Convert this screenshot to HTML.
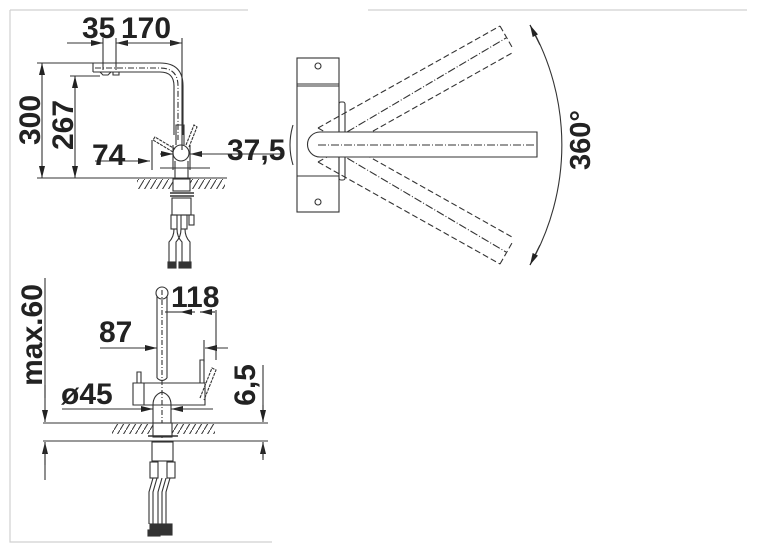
<!DOCTYPE html>
<html><head><style>
html,body{margin:0;padding:0;background:#fff;}
svg{display:block;}
text{font-family:"Liberation Sans",Arial,sans-serif;font-weight:bold;fill:#222;}
</style></head><body>
<svg width="757" height="552" viewBox="0 0 757 552" xmlns="http://www.w3.org/2000/svg">
<defs>
<marker id="a" viewBox="0 0 12 6" refX="12" refY="3" markerWidth="12" markerHeight="6" orient="auto-start-reverse" markerUnits="userSpaceOnUse"><path d="M0,0 L12,3 L0,6 z" fill="#222"/></marker>
<pattern id="h" width="6" height="10" patternUnits="userSpaceOnUse"><path d="M0,10 L6,0" stroke="#333" stroke-width="1"/></pattern>
</defs>
<g stroke="#d0d0d0" stroke-width="1.2" fill="none">
<path d="M10,10 H248"/><path d="M10,10 V542 H272"/><path d="M368,10 H747"/>
</g>
<g stroke="#333" stroke-width="1.1" fill="none">
<path d="M67,43 H103" /><path d="M83,43 H103" marker-end="url(#a)"/>
<path d="M137,43 H116" marker-end="url(#a)"/><path d="M160,43 H182" marker-end="url(#a)"/><path d="M116,43 H182"/>
<path d="M103,38 V70"/><path d="M116,38 V70"/><path d="M182,38 V150"/>
<path d="M93,63 H160 Q183,63 183,86 V135"/>
<path d="M93,72 H160 Q174,72 174,86 V135"/>
<path d="M93,63 V72"/>
<path d="M95,68 H160 Q178,68 178,86 V140" stroke-dasharray="6,2,1,2"/>
<path d="M100,72 l3,3 h5 l3,-3"/><path d="M113,72 v3 h6 v-3"/>
<path d="M37,63 H93"/><path d="M70,76 H100"/>
<path d="M42,80 V63" marker-end="url(#a)"/><path d="M42,80 V160"/><path d="M42,160 V178" marker-end="url(#a)"/>
<path d="M75,95 V76" marker-end="url(#a)"/><path d="M75,95 V160"/><path d="M75,160 V178" marker-end="url(#a)"/>
<path d="M37,178 H137"/>
<circle cx="181" cy="153" r="8"/>
<path d="M176,145 V125 h8 V145"/>
<path d="M186,145 l8,-20 l3,2 l-8,20" stroke-dasharray="3,1"/>
<path d="M173,152 l-20,-12 l2,-3 l20,12" stroke-dasharray="3,1"/>
<path d="M175,161 V178 M188,161 V178"/>
<path d="M95,161 H150" /><path d="M130,161 H150" marker-end="url(#a)"/><path d="M152,140 V170"/>
<path d="M160,154 H173" marker-end="url(#a)"/><path d="M215,154 H190" marker-end="url(#a)"/><path d="M190,154 H282"/><path d="M173,145 V170 M190,145 V170"/>
<path d="M160,168 H210"/>
<path d="M137,178 H227"/>
<rect x="137" y="179" width="88" height="10" fill="url(#h)" stroke="none"/>
<rect x="173" y="179" width="17" height="12" fill="#fff"/>
<path d="M170,193 H194 M170,196 H194" stroke-width="1.6"/>
<rect x="172" y="198" width="19" height="17"/>
<rect x="171" y="215" width="6" height="14"/><rect x="181" y="215" width="6" height="14"/><rect x="189" y="215" width="5" height="10"/>
<path d="M174,229 q0,8 -5,13 V262 M177,229 q0,8 5,13 V262 M181,229 q0,8 -5,13 V262 M185,229 q0,8 5,13 V262"/>
<rect x="168" y="262" width="8" height="6" fill="#333"/><rect x="179" y="262" width="12" height="6" fill="#333"/>
<path d="M45,278 V398"/><path d="M45,385 V422" marker-end="url(#a)"/>
<path d="M45,465 V442" marker-end="url(#a)"/><path d="M45,442 V480"/>
<path d="M43,423 H268 M43,441 H268"/>
<path d="M263,365 V420"/><path d="M263,405 V422" marker-end="url(#a)"/><path d="M263,458 V442" marker-end="url(#a)"/><path d="M263,442 V460"/>
<circle cx="162" cy="293" r="6"/>
<path d="M157,296 V378 M167,296 V378"/><path d="M162,290 V440" stroke-dasharray="5,2,1,2"/>
<path d="M157,378 q5,5 10,0"/>
<path d="M133,383 H205 V405 H133 Z"/><path d="M137,383 V372 h4 V383"/>
<path d="M144,383 V405"/>
<path d="M200,383 V360 h4 V383"/>
<path d="M200,398 l12,-30 l4,2 l-12,30" stroke-dasharray="3,1"/>
<path d="M153,405 q0,-10 9,-13 q9,3 9,13 V423 M153,405 V423"/>
<path d="M165,312 H180" /><path d="M195,312 H180" marker-end="url(#a)"/><path d="M215,312 H200" marker-end="url(#a)"/><path d="M200,312 H215"/>
<path d="M216,310 V360"/>
<path d="M100,348 H157" /><path d="M140,348 H157" marker-end="url(#a)"/><path d="M228,348 H205" marker-end="url(#a)"/><path d="M205,348 H228"/><path d="M204,340 V362"/>
<path d="M62,409 H150"/><path d="M130,409 H153" marker-end="url(#a)"/><path d="M190,409 H171" marker-end="url(#a)"/><path d="M171,409 H213"/>
<rect x="112" y="424" width="103" height="10" fill="url(#h)" stroke="none"/>
<rect x="153" y="423" width="19" height="14" fill="#fff"/>
<path d="M148,436 H178" stroke-width="1.5"/>
<rect x="152" y="442" width="21" height="19"/>
<rect x="150" y="462" width="8" height="16"/><rect x="167" y="462" width="8" height="16"/>
<path d="M153,478 l-4,14 V524 M157,478 l-4,14 V524 M162,478 l-4,14 V524 M166,478 l-4,14 V524 M170,478 l-4,14 V524"/>
<rect x="150" y="524" width="22" height="5" fill="#333"/><rect x="148" y="530" width="12" height="6" fill="#333"/><rect x="160" y="530" width="12" height="5" fill="#333"/>
<rect x="297" y="58" width="42" height="154" fill="#fff"/>
<path d="M297,84 H339 M297,86 H339 M297,176 H339"/>
<circle cx="318" cy="66" r="3"/><circle cx="318" cy="202" r="3"/>
<rect x="339" y="102" width="6" height="78" rx="2"/>
<path d="M293,125 q-6,20 0,40"/>
<g stroke-dasharray="6,3">
<path d="M318,128 L500,26 M318,162 L512,53 M500,26 L512,47"/>
<path d="M325,145 L506,38" stroke-dasharray="8,2,1,2"/>
<path d="M318,162 L500,264 M318,128 L512,237 M500,264 L512,243"/>
<path d="M325,145 L506,252" stroke-dasharray="8,2,1,2"/>
</g>
<path d="M537,132 H320 A12.5,12.5 0 0 0 320,157 H537 Z" fill="#fff"/>
<path d="M318,145 H535" stroke-dasharray="8,2,1,2"/>
<path d="M530,25 A242,242 0 0 1 530,265"/>
<path d="M540,45 L530,25" marker-end="url(#a)"/><path d="M540,245 L530,265" marker-end="url(#a)"/>
</g>
<text x="82" y="38" font-size="30">35</text>
<text x="121" y="38" font-size="30">170</text>
<text transform="translate(40,120) rotate(-90)" text-anchor="middle" font-size="30">300</text>
<text transform="translate(73,125) rotate(-90)" text-anchor="middle" font-size="30">267</text>
<text x="92" y="165" font-size="30">74</text>
<text x="227" y="160" font-size="30">37,5</text>
<text transform="translate(590,140) rotate(-90)" text-anchor="middle" font-size="29">360°</text>
<text transform="translate(42,335) rotate(-90)" text-anchor="middle" font-size="30">max.60</text>
<text x="171" y="307" font-size="30">118</text>
<text x="99" y="342" font-size="30">87</text>
<text x="61" y="404" font-size="30">ø45</text>
<text transform="translate(255,385) rotate(-90)" text-anchor="middle" font-size="30">6,5</text>
</svg>
</body></html>
